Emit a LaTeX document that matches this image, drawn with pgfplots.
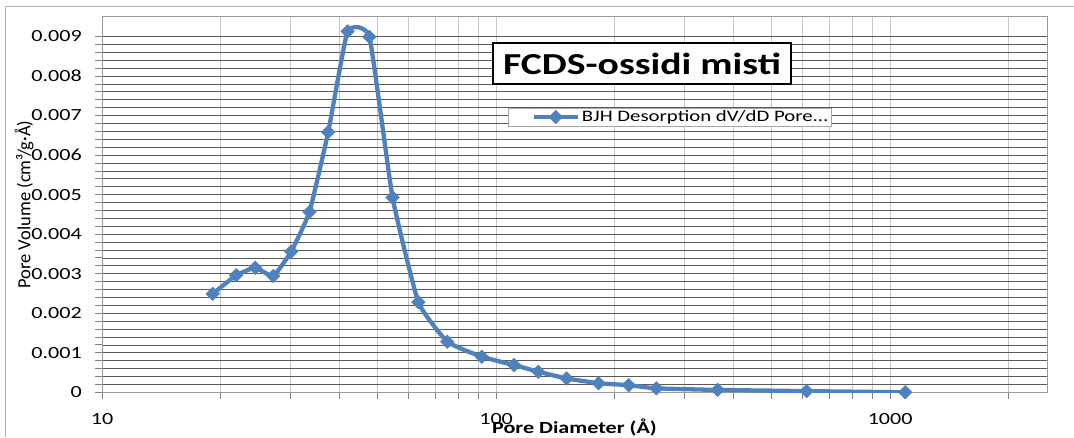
\documentclass[border=0pt]{standalone}
\usepackage{pgfplots}
\pgfplotsset{compat=1.18}
\usepackage{fontspec}
\setmainfont{Carlito}[FakeStretch=1.3]
\newfontfamily\ylfont{Carlito}
\definecolor{xlblue}{HTML}{4F81BD}
\begin{document}
\begin{tikzpicture}
\useasboundingbox (0,0) rectangle (1074pt,437pt);
\draw[gray!60, line width=1pt] (5pt,0pt) -- (5pt,430pt) -- (1074pt,430pt);
\begin{axis}[
  at={(102pt,44.7pt)}, anchor=south west,
  scale only axis, width=945pt, height=375.6pt,
  xmode=log, xmin=10, xmax=2500, ymin=0, ymax=0.0095,
  xtick={10,100,1000}, xticklabels={10,100,1000},
  minor xtick={20,30,40,50,60,70,80,90,200,300,400,500,600,700,800,900,2000},
  ytick={0,0.001,0.002,0.003,0.004,0.005,0.006,0.007,0.008,0.009},
  yticklabels={0,0.001,0.002,0.003,0.004,0.005,0.006,0.007,0.008,0.009},
  minor y tick num=4,
  scaled y ticks=false,
  xmajorgrids, xminorgrids, ymajorgrids, yminorgrids,
  major x grid style={gray!45, line width=0.8pt},
  minor x grid style={gray!45, line width=0.8pt},
  major y grid style={black!65, line width=0.7pt},
  minor y grid style={black!65, line width=0.7pt},
  tick align=outside, xtick pos=bottom, ytick pos=left,
  major tick length=7pt, minor tick length=7pt,
  every tick/.style={gray, line width=0.8pt},
  axis line style={gray!80, line width=1pt},
  /pgf/number format/assume math mode=true,
  ticklabel style={font=\fontsize{17}{17}\selectfont},
  xticklabel style={anchor=north, inner sep=0pt, yshift=-14pt},
  yticklabel style={anchor=east, inner sep=0pt, xshift=-13pt},
  xlabel={\textbf{Pore Diameter (Å)}},
  xlabel style={at={(axis description cs:0.5,0)}, anchor=center, yshift=-34.7pt, font=\fontsize{17}{17}\selectfont},
  ylabel={Pore Volume (cm³/g·Å)},
  ylabel style={at={(axis description cs:-0.0825,0.5)}, anchor=center, font=\ylfont\fontsize{18.5}{18.5}\selectfont},
  legend style={at={(0.4296,0.757)}, anchor=north west, draw=gray!70, fill=white,
    font=\fontsize{16}{16}\selectfont, inner sep=0.5pt, row sep=0pt},
  legend cell align=left,
  legend image code/.code={
    \path[draw=none, fill=none] (0pt,0pt) -- (69pt,0pt);
    \draw[sharp plot] (25pt,0pt) -- (69pt,0pt);
    \draw plot[only marks] coordinates {(47pt,0pt)};
  },
]
\addplot[xlblue, line width=4.3pt, smooth, tension=0.25, mark=square*, mark size=4.8pt,
  mark options={rotate=45, line width=0.5pt, fill=xlblue}] coordinates {
(19.1,0.00249)
(21.9,0.00296)
(24.5,0.00315)
(27.2,0.00294)
(30.2,0.00356)
(33.6,0.00456)
(37.5,0.00658)
(42.0,0.00913)
(47.7,0.00899)
(54.6,0.00493)
(63.5,0.00228)
(75.2,0.00128)
(92.0,0.00090)
(111,0.00069)
(128,0.00052)
(151,0.00035)
(182,0.00023)
(217,0.00018)
(255,0.00010)
(365,0.00006)
(614,0.00003)
(1092,0.00000)
};
\addlegendentry{BJH Desorption dV/dD Pore...}
\end{axis}
\node[draw=black, line width=1.6pt, fill=white, minimum width=298pt, minimum height=41pt,
  inner sep=0pt, font=\fontsize{30.5}{30.5}\selectfont\bfseries] at (642pt,373.5pt) {FCDS-ossidi misti};
\end{tikzpicture}
\end{document}
